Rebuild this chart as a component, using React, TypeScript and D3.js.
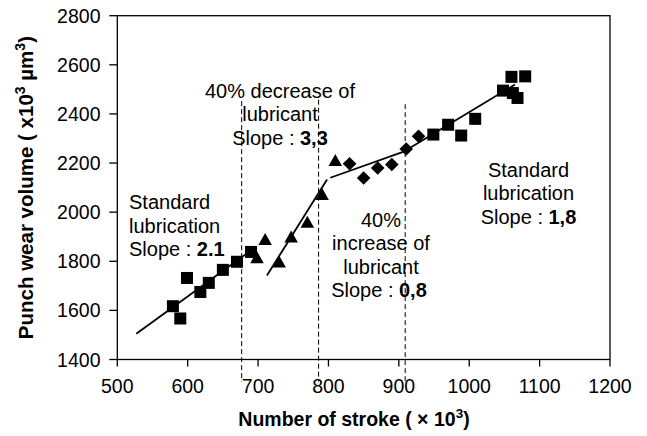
import React from "react";
import * as d3 from "d3";

const W = 647;
const H = 436;

// Data (x: strokes ×10^3, y: wear volume ×10^3 µm^3)
const squaresAX = [579, 589.5, 599, 618, 630, 650, 670, 690];
const squaresAY = [1617, 1567, 1732, 1675, 1712, 1765, 1798, 1838];
const trianglesX = [698.5, 710, 730, 747, 770, 791, 809.7];
const trianglesY = [1814, 1888, 1797, 1898, 1959, 2072, 2210];
const diamondsX = [830, 850, 870, 890, 910.5, 928];
const diamondsY = [2197, 2139, 2180, 2194, 2257, 2309];
const squaresBX = [949, 970, 988.6, 1008.5, 1048, 1060, 1062, 1068.6, 1079.5];
const squaresBY = [2316, 2356, 2312, 2380, 2495, 2551, 2485, 2465, 2553];

// Trend lines [x1, y1, x2, y2]
const trendLines = [
  [527, 1505, 688, 1840],
  [712.6, 1742, 798, 2133],
  [802.6, 2140, 915, 2255],
  [912, 2255, 1065, 2520],
];

// Dashed separators (x) and their vertical span
const dashedX = [676.7, 786, 909];
const dashedTop = [2452, 2458, 2440];
const dashedBottom = 1310;

const xTicks = [500, 600, 700, 800, 900, 1000, 1100, 1200];
const yTicks = [1400, 1600, 1800, 2000, 2200, 2400, 2600, 2800];

const FONT = "'Liberation Sans', Arial, Helvetica, sans-serif";

export default function App() {
  const left = 117.3, right = 610, top = 15.7, bottom = 359.5;
  const x = d3.scaleLinear().domain([500, 1200]).range([left, right]);
  const y = d3.scaleLinear().domain([1400, 2800]).range([bottom, top]);

  const sq = 12;
  const triPath = (cx: number, cy: number) => {
    const w = 13.5, h = 12;
    return `M${cx},${cy - h * 0.55}L${cx + w / 2},${cy + h * 0.45}L${cx - w / 2},${cy + h * 0.45}Z`;
  };
  const dia = 6.8;

  const line = d3.line<[number, number]>().x((d) => x(d[0])).y((d) => y(d[1]));

  const annFont = 20;
  const lh = 23.5;

  return (
    <svg
      width={W}
      height={H}
      style={{ position: "absolute", left: 0, top: 0, background: "#fff" }}
      fontFamily={FONT}
    >
      <rect x={0} y={0} width={W} height={H} fill="#fff" />
      {/* plot box */}
      <rect x={left} y={top} width={right - left} height={bottom - top} fill="none" stroke="#000" strokeWidth={1.3} />

      {/* y ticks */}
      {yTicks.map((t) => (
        <g key={"y" + t}>
          <line x1={left - 8} x2={left} y1={y(t)} y2={y(t)} stroke="#000" strokeWidth={1.3} />
          <text x={100.5} y={y(t) + 7} textAnchor="end" fontSize={19.5} fill="#000">
            {t}
          </text>
        </g>
      ))}
      {/* x ticks */}
      {xTicks.map((t) => (
        <g key={"x" + t}>
          <line x1={x(t)} x2={x(t)} y1={bottom} y2={bottom + 7} stroke="#000" strokeWidth={1.3} />
          <text x={x(t)} y={392.5} textAnchor="middle" fontSize={19.5} fill="#000">
            {t}
          </text>
        </g>
      ))}

      {/* dashed separators */}
      {dashedX.map((d, i) => (
        <line
          key={"d" + i}
          x1={x(d)}
          x2={x(d)}
          y1={y(dashedTop[i])}
          y2={y(dashedBottom)}
          stroke="#000"
          strokeWidth={1}
          strokeDasharray="5,3"
        />
      ))}

      {/* trend lines */}
      {trendLines.map((l, i) => (
        <path
          key={"t" + i}
          d={line([
            [l[0], l[1]],
            [l[2], l[3]],
          ]) as string}
          stroke="#000"
          strokeWidth={1.8}
          fill="none"
        />
      ))}

      {/* markers */}
      {squaresAX.map((v, i) => (
        <rect key={"sa" + i} x={x(v) - sq / 2} y={y(squaresAY[i]) - sq / 2} width={sq} height={sq} fill="#000" />
      ))}
      {squaresBX.map((v, i) => (
        <rect key={"sb" + i} x={x(v) - sq / 2} y={y(squaresBY[i]) - sq / 2} width={sq} height={sq} fill="#000" />
      ))}
      {trianglesX.map((v, i) => (
        <path key={"tr" + i} d={triPath(x(v), y(trianglesY[i]))} fill="#000" />
      ))}
      {diamondsX.map((v, i) => {
        const cx = x(v), cy = y(diamondsY[i]);
        return (
          <path
            key={"di" + i}
            d={`M${cx},${cy - dia}L${cx + dia},${cy}L${cx},${cy + dia}L${cx - dia},${cy}Z`}
            fill="#000"
          />
        );
      })}

      {/* annotations */}
      <g fontSize={annFont} fill="#000">
        <text x={129} y={209}>Standard</text>
        <text x={129} y={209 + lh}>lubrication</text>
        <text x={129} y={209 + 2 * lh}>
          Slope : <tspan fontWeight="bold">2.1</tspan>
        </text>

        <text x={280} y={97.5} textAnchor="middle">40% decrease of</text>
        <text x={280} y={97.5 + lh} textAnchor="middle">lubricant</text>
        <text x={280} y={97.5 + 2 * lh} textAnchor="middle">
          Slope : <tspan fontWeight="bold">3,3</tspan>
        </text>

        <text x={381} y={226.5} textAnchor="middle">40%</text>
        <text x={381} y={226.5 + lh} textAnchor="middle">increase of</text>
        <text x={381} y={226.5 + 2 * lh} textAnchor="middle">lubricant</text>
        <text x={379} y={226.5 + 3 * lh} textAnchor="middle">
          Slope : <tspan fontWeight="bold">0,8</tspan>
        </text>

        <text x={528.5} y={176.5} textAnchor="middle">Standard</text>
        <text x={528.5} y={176.5 + lh} textAnchor="middle">lubrication</text>
        <text x={528.5} y={176.5 + 2 * lh} textAnchor="middle">
          Slope : <tspan fontWeight="bold">1,8</tspan>
        </text>
      </g>

      {/* axis titles */}
      <text x={354} y={425.5} textAnchor="middle" fontSize={19.5} fontWeight="bold" fill="#000">
        Number of stroke ( × 10<tspan fontSize={13.5} dy={-8}>3</tspan>
        <tspan dy={8}>)</tspan>
      </text>
      <text
        transform={`translate(33, ${(top + bottom) / 2}) rotate(-90)`}
        textAnchor="middle"
        fontSize={20.5}
        fontWeight="bold"
        fill="#000"
      >
        Punch wear volume ( x10<tspan fontSize={14} dy={-8.5}>3</tspan>
        <tspan dy={8.5}> µm</tspan>
        <tspan fontSize={14} dy={-8.5}>3</tspan>
        <tspan dy={8.5}>)</tspan>
      </text>
    </svg>
  );
}
